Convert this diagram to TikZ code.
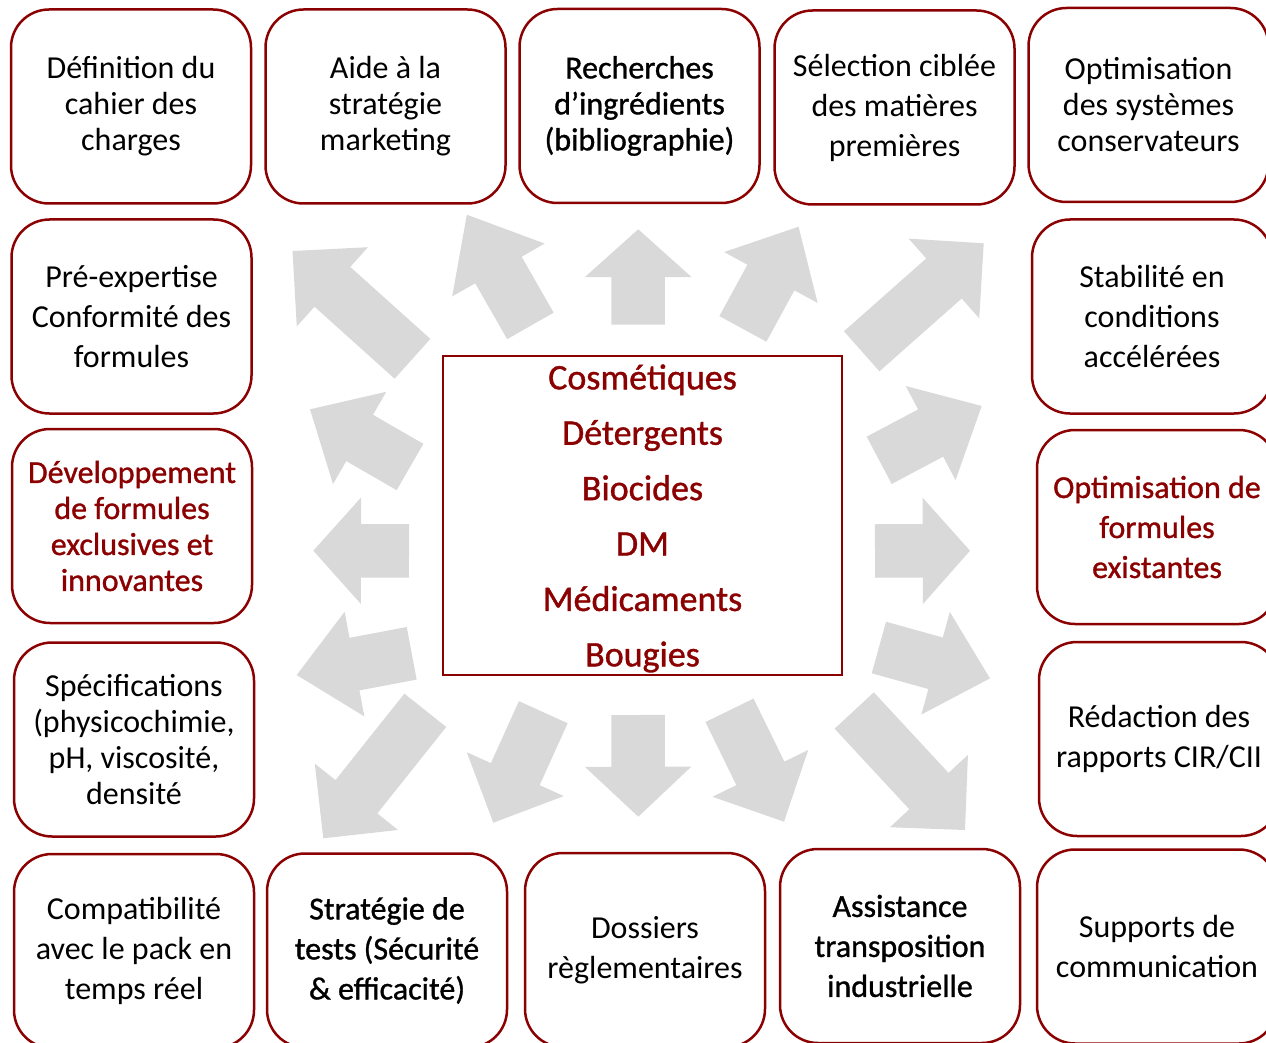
\documentclass[tikz,border=0pt]{standalone}
\usepackage{fontspec}
\setmainfont{Carlito}
\newfontfamily\regf{Carlito}[FakeBold=1]
\usetikzlibrary{calc}
\definecolor{dred}{HTML}{8B0000}
\definecolor{agray}{HTML}{D9D9D9}
\newcommand{\garrow}[5]{%
  \coordinate (T) at (#1,#2);
  \coordinate (E) at (#3,#4);
  \coordinate (B) at ($(T)!#5pt!(E)$);
  \fill[agray] (T) -- ($(B)!53.25pt!90:(T)$) -- ($(B)!26.75pt!90:(T)$)
    -- ($(E)!26.75pt!90:(T)$) -- ($(E)!26.75pt!-90:(T)$)
    -- ($(B)!26.75pt!-90:(T)$) -- ($(B)!53.25pt!-90:(T)$) -- cycle;
}
\tikzset{
  box/.style={draw=dred, line width=2.5pt, rounded corners=38pt,
    minimum width=240pt, minimum height=194pt, inner sep=0pt,
    align=center, font=\fontsize{32}{36}\selectfont},
  boxw/.style={box, font=\fontsize{32}{40}\selectfont},
  boxr/.style={box, font=\regf\fontsize{32}{36}\selectfont},
  boxrw/.style={box, font=\regf\fontsize{32}{40}\selectfont},
  midbox/.style={draw=dred, line width=2.5pt, minimum width=399pt,
    minimum height=319pt, inner sep=0pt},
  midtext/.style={align=center, text=dred, inner sep=0pt,
    font=\regf\fontsize{36}{55.4}\selectfont}
}
\begin{document}
\begin{tikzpicture}[x=1pt,y=-1pt]
\useasboundingbox (0,0) rectangle (1266,1043);
% arrows
\garrow{292.5}{251}{412.5}{358.8}{53.6}
\garrow{466.8}{214.7}{530.4}{325.9}{63.7}
\garrow{638.2}{229.3}{638.2}{324.7}{47.7}
\garrow{798.6}{226.7}{742.9}{328.9}{57.9}
\garrow{983.7}{243.3}{861.7}{351.3}{53.1}
\garrow{310}{409.3}{410}{467}{57.3}
\garrow{313.3}{550.7}{409}{550.8}{47.7}
\garrow{296.7}{675}{411.7}{653.3}{58.8}
\garrow{323.3}{838.3}{425.3}{710.3}{53.1}
\garrow{493.3}{822.7}{543.3}{712.2}{53.3}
\garrow{638.3}{816.7}{638}{715}{50}
\garrow{784}{821.7}{729.5}{710.3}{53.8}
\garrow{965}{830}{854.2}{710.5}{53.1}
\garrow{981.7}{406}{879.2}{460.3}{57.8}
\garrow{970}{550.7}{875}{551}{47.3}
\garrow{990}{678.4}{878.9}{647.5}{56.5}
% boxes
\node[box]   (b1)  at (131,106.5)   {Définition du\\cahier des\\charges};
\node[box]   (b2)  at (385.5,106.5) {Aide à la\\stratégie\\marketing};
\node[boxr]  (b3)  at (639.5,106)   {Recherches\\d’ingrédients\\(bibliographie)};
\node[boxw]  (b4)  at (894.5,107.5) {Sélection ciblée\\des matières\\premières};
\node[box]   (b5)  at (1148.5,105)  {Optimisation\\des systèmes\\conservateurs};
\node[boxw]  (b6)  at (131.5,316.5) {Pré-expertise\\Conformité des\\formules};
\node[boxr, text=dred] (b7) at (132,526) {Développement\\de formules\\exclusives et\\innovantes};
\node[box]   (b8)  at (134,739.5)   {Spécifications\\(physicochimie,\\pH, viscosité,\\densité};
\node[boxw]  (b9)  at (134,951)     {Compatibilité\\avec le pack en\\temps réel};
\node[boxrw] (b10) at (387,950.5)   {Stratégie de\\tests (Sécurité\\\& efficacité)};
\node[boxw]  (b11) at (645,950)     {Dossiers\\règlementaires};
\node[boxrw] (b12) at (900,946)     {Assistance\\transposition\\industrielle};
\node[boxw]  (b13) at (1157,946.5)  {Supports de\\communication};
\node[boxw]  (b14) at (1152,316.5)  {Stabilité en\\conditions\\accélérées};
\node[boxrw, text=dred] (b15) at (1157,527) {Optimisation de\\formules\\existantes};
\node[boxw]  (b16) at (1159,739)    {Rédaction des\\rapports CIR/CII};
\node[midbox] (mid) at (642.5,515.5) {};
\node[midtext] (midt) at (642.5,518.5) {Cosmétiques\\Détergents\\Biocides\\DM\\Médicaments\\Bougies};
\end{tikzpicture}
\end{document}
